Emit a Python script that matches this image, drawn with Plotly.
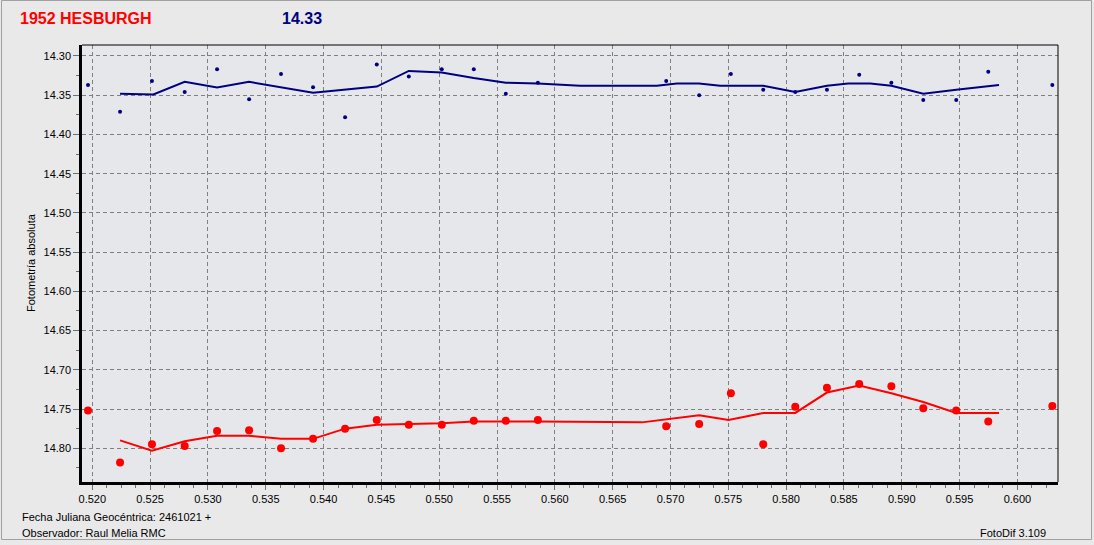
import plotly.graph_objects as go

# ---- data (JD fraction after 2461021, absolute magnitude) ----
jd = [0.51963, 0.52240, 0.52516, 0.52799, 0.53079, 0.53356, 0.53632, 0.53909, 0.54186,
      0.54460, 0.54737, 0.55022, 0.55299, 0.55576, 0.55853, 0.56963, 0.57248, 0.57522,
      0.57802, 0.58079, 0.58353, 0.58632, 0.58910, 0.59186, 0.59471, 0.59748, 0.60302]
comp_mag = [14.337, 14.371, 14.332, 14.346, 14.317, 14.355, 14.323, 14.340, 14.378,
            14.311, 14.326, 14.317, 14.317, 14.348, 14.334, 14.332, 14.350, 14.323,
            14.343, 14.346, 14.343, 14.324, 14.334, 14.356, 14.356, 14.320, 14.337]
target_mag = [14.752, 14.818, 14.795, 14.797, 14.778, 14.777, 14.800, 14.788, 14.775,
              14.764, 14.770, 14.770, 14.765, 14.765, 14.764, 14.772, 14.769, 14.730,
              14.795, 14.747, 14.723, 14.718, 14.721, 14.749, 14.752, 14.766, 14.746]

comp_smooth_jd = [0.52240, 0.52528, 0.52799, 0.53079, 0.53356, 0.53909, 0.54460, 0.54737,
                  0.55022, 0.55299, 0.55576, 0.55853, 0.56219, 0.56882, 0.57055, 0.57246,
                  0.57430, 0.57802, 0.58079, 0.58353, 0.58537, 0.58728, 0.58910, 0.59186,
                  0.59471, 0.59841]
comp_smooth = [14.348, 14.349, 14.333, 14.340, 14.333, 14.347, 14.339, 14.319,
               14.321, 14.328, 14.334, 14.335, 14.338, 14.338, 14.335, 14.335,
               14.338, 14.338, 14.346, 14.338, 14.335, 14.335, 14.338, 14.348,
               14.343, 14.337]

target_smooth_jd = [0.52240, 0.52516, 0.52799, 0.53079, 0.53356, 0.53632, 0.53909, 0.54186,
                    0.54460, 0.54737, 0.55022, 0.55299, 0.55576, 0.55853, 0.56753, 0.56963,
                    0.57248, 0.57502, 0.57802, 0.58079, 0.58353, 0.58632, 0.58910, 0.59186,
                    0.59471, 0.59841]
target_smooth = [14.790, 14.803, 14.791, 14.784, 14.784, 14.788, 14.788, 14.775,
                 14.770, 14.769, 14.768, 14.766, 14.766, 14.766, 14.767, 14.763,
                 14.758, 14.764, 14.755, 14.755, 14.729, 14.720, 14.730, 14.741,
                 14.755, 14.755]

title_name = "1952 HESBURGH"
title_mag = "14.33"
y_title = "Fotometría absoluta"
x_note = "Fecha Juliana Geocéntrica: 2461021 +"
observer = "Observador: Raul Melia RMC"
software = "FotoDif 3.109"

# ---- layout geometry (pixels) ----
W, H = 1094, 545
L, R, T, B = 82, 1058, 45, 482
PW, PH = R - L, B - T


def px(x):
    return (x - L) / PW


def py(y):
    return (B - y) / PH


FONT = "Liberation Sans, Arial, sans-serif"
NAVY = "#000080"
RED = "#ff0000"

fig = go.Figure()
fig.add_trace(go.Scatter(x=comp_smooth_jd, y=comp_smooth, mode="lines",
                         line=dict(color=NAVY, width=2), hoverinfo="skip"))
fig.add_trace(go.Scatter(x=jd, y=comp_mag, mode="markers",
                         marker=dict(color=NAVY, size=4, line=dict(width=0))))
fig.add_trace(go.Scatter(x=target_smooth_jd, y=target_smooth, mode="lines",
                         line=dict(color=RED, width=2), hoverinfo="skip"))
fig.add_trace(go.Scatter(x=jd, y=target_mag, mode="markers",
                         marker=dict(color=RED, size=8, line=dict(width=0))))

grid = dict(showgrid=True, gridcolor="#808080", gridwidth=1, griddash="4px,3px")

fig.update_xaxes(range=[0.51911, 0.60351], tickmode="linear", tick0=0.52, dtick=0.005,
                 tickformat=".3f", ticks="outside", ticklen=5, tickcolor="#707070",
                 showline=True, linecolor="#000", linewidth=2.5, zeroline=False,
                 tickfont=dict(family=FONT, size=11, color="#000"),
                 minor=dict(dtick=0.00125, ticks="outside", ticklen=3, tickcolor="#707070",
                            showgrid=False),
                 **grid)
fig.update_yaxes(range=[14.843, 14.286], tickmode="linear", tick0=14.30, dtick=0.05,
                 tickformat=".2f", ticks="outside", ticklen=6, tickcolor="#707070",
                 showline=True, linecolor="#000", linewidth=2.5, zeroline=False,
                 tickfont=dict(family=FONT, size=11, color="#000"),
                 minor=dict(dtick=0.025, ticks="outside", ticklen=3, tickcolor="#707070",
                            showgrid=False),
                 **grid)

shapes = [
    # thin top and right frame
    dict(type="line", xref="paper", yref="paper", x0=0, x1=1, y0=1, y1=1,
         line=dict(color="#000", width=1)),
    dict(type="line", xref="paper", yref="paper", x0=1, x1=1, y0=0, y1=1,
         line=dict(color="#000", width=1)),
    # window border
    dict(type="rect", xref="paper", yref="paper", x0=px(1.5), x1=px(1091.5),
         y0=py(539.5), y1=py(0.5), line=dict(color="#a0a0a0", width=1),
         layer="below"),
]

annotations = [
    dict(text=f"<b>{title_name}</b>", x=px(18), y=py(18), xref="paper", yref="paper",
         xanchor="left", yanchor="middle", showarrow=False,
         font=dict(family=FONT, size=16, color=RED)),
    dict(text=f"<b>{title_mag}</b>", x=px(280), y=py(18), xref="paper", yref="paper",
         xanchor="left", yanchor="middle", showarrow=False,
         font=dict(family=FONT, size=16, color=NAVY)),
    dict(text=y_title, x=px(31), y=py(263), xref="paper", yref="paper",
         xanchor="center", yanchor="middle", showarrow=False, textangle=-90,
         font=dict(family=FONT, size=11, color="#000")),
    dict(text=x_note, x=px(20), y=py(517), xref="paper", yref="paper",
         xanchor="left", yanchor="middle", showarrow=False,
         font=dict(family=FONT, size=11, color="#000")),
    dict(text=observer, x=px(20), y=py(533), xref="paper", yref="paper",
         xanchor="left", yanchor="middle", showarrow=False,
         font=dict(family=FONT, size=11, color="#000")),
    dict(text=software, x=px(1048), y=py(533), xref="paper", yref="paper",
         xanchor="right", yanchor="middle", showarrow=False,
         font=dict(family=FONT, size=11, color="#000")),
]

fig.update_layout(width=W, height=H, autosize=False,
                  margin=dict(l=L, r=W - R, t=T, b=H - B, pad=0),
                  paper_bgcolor="#e9e9e9", plot_bgcolor="#e6e7ea",
                  showlegend=False, shapes=shapes, annotations=annotations,
                  font=dict(family=FONT, size=11, color="#000"))

fig.write_html("out.html", config={"displayModeBar": False},
               post_script="document.body.style.margin='0';document.body.style.overflow='hidden';")
